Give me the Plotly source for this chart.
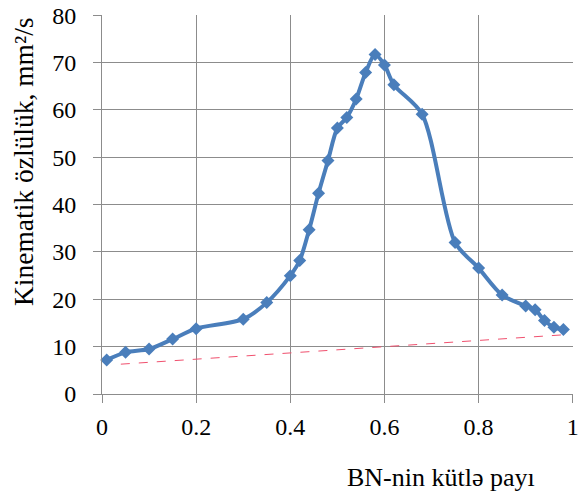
import plotly.graph_objects as go

x_vals = [0.01, 0.05, 0.10, 0.15, 0.20, 0.30, 0.35, 0.40, 0.42, 0.44, 0.46, 0.48,
          0.50, 0.52, 0.54, 0.56, 0.58, 0.60, 0.62, 0.68, 0.75, 0.80, 0.85, 0.90,
          0.92, 0.94, 0.96, 0.98]
y_vals = [7.2, 8.8, 9.5, 11.6, 13.8, 15.8, 19.3, 25.0, 28.2, 34.7, 42.4, 49.3,
          56.2, 58.4, 62.3, 67.9, 71.7, 69.5, 65.3, 59.1, 32.0, 26.6, 20.9, 18.6,
          17.8, 15.5, 14.1, 13.6]

trend_x = [0.04, 0.98]
trend_y = [6.3, 12.5]

x_ticks = [0, 0.2, 0.4, 0.6, 0.8, 1]
x_tick_text = ["0", "0.2", "0.4", "0.6", "0.8", "1"]
y_ticks = [0, 10, 20, 30, 40, 50, 60, 70, 80]

blue = "#4A7EBB"
grid = "#8C8C8C"
font = "Liberation Serif, Times New Roman, serif"

W, H = 581, 499
L, R, T, B = 102, 8, 15, 105
pw = W - L - R
ph = H - T - B

fig = go.Figure()
fig.add_trace(go.Scatter(
    x=trend_x, y=trend_y, mode="lines",
    line=dict(color="#F0506E", width=1, dash="dash"),
    hoverinfo="skip", showlegend=False))
fig.add_trace(go.Scatter(
    x=x_vals, y=y_vals, mode="lines+markers",
    line=dict(color=blue, width=4, shape="spline", smoothing=0.8),
    marker=dict(symbol="diamond", size=10, color=blue),
    cliponaxis=False, showlegend=False))

fig.update_layout(
    width=W, height=H,
    margin=dict(l=L, r=R, t=T, b=B, autoexpand=False),
    paper_bgcolor="white", plot_bgcolor="white",
    font=dict(family=font, size=24, color="black"),
    xaxis=dict(range=[0, 1.0005], tickvals=x_ticks, ticktext=x_tick_text,
               tickfont=dict(family=font, size=24, color="black"),
               showgrid=True, gridcolor=grid, gridwidth=1,
               ticks="outside", ticklen=8, tickcolor=grid, tickwidth=1,
               showline=True, linecolor=grid, linewidth=1, zeroline=False,
               automargin=False, ticklabelstandoff=3),
    yaxis=dict(range=[0, 80.05], tickvals=y_ticks,
               tickfont=dict(family=font, size=24, color="black"),
               showgrid=True, gridcolor=grid, gridwidth=1,
               ticks="outside", ticklen=8, tickcolor=grid, tickwidth=1,
               showline=True, linecolor=grid, linewidth=1, zeroline=False,
               automargin=False, ticklabelstandoff=12),
    annotations=[
        dict(text="BN-nin kütlə payı", x=(441 - L) / pw, y=(H - B - 477) / ph,
             xref="paper", yref="paper", showarrow=False,
             xanchor="center", yanchor="middle",
             font=dict(family=font, size=26, color="black")),
        dict(text="Kinematik özlülük, mm²/s", x=(23 - L) / pw, y=(H - B - 162) / ph,
             xref="paper", yref="paper", showarrow=False, textangle=-90,
             xanchor="center", yanchor="middle",
             font=dict(family=font, size=27.5, color="black")),
    ],
)

fig.write_html("out.html", config={"displayModeBar": False},
               post_script="document.body.style.margin='0';document.body.style.overflow='hidden';")
